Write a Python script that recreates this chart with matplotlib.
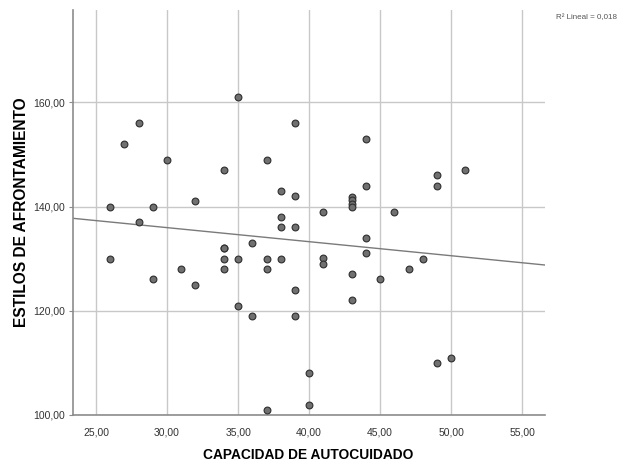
import matplotlib
matplotlib.use("Agg")
import matplotlib.pyplot as plt
import numpy as np
from matplotlib.ticker import FuncFormatter

# puntos (capacidad de autocuidado, estilos de afrontamiento)
autocuidado = [35, 28, 27, 30, 34, 26, 29, 32, 28, 34, 36, 26, 29, 31, 32,
               34, 34, 34, 35, 35, 36, 39, 44, 37, 38, 39, 44,
               43, 43, 43, 43, 41, 46, 38, 38, 39, 44, 44,
               37, 38, 41, 41, 37, 43, 45, 47, 39, 43, 39,
               40, 40, 37, 49, 49, 51, 48, 49, 50]
afrontamiento = [161, 156, 152, 149, 147, 140, 140, 141, 137, 132, 133, 130, 126, 128, 125,
                 132, 130, 128, 130, 121, 119, 156, 153, 149, 143, 142, 144,
                 141.9, 141.2, 140.5, 139.9, 139, 139, 138, 136, 136, 134, 131,
                 130, 130, 130.2, 128.9, 128, 127, 126, 128, 124, 122, 119,
                 108, 102, 101, 146, 144, 147, 130, 110, 111]

xticks = [25, 30, 35, 40, 45, 50, 55]
yticks = [100, 120, 140, 160]
r2_texto = "R² Lineal = 0,018"

plt.rcParams['font.family'] = ['Liberation Sans', 'DejaVu Sans']

fig = plt.figure(figsize=(6.2, 4.63), dpi=100)
ax = fig.add_axes([73/620, 1-415/463, (545-73)/620, (415-10)/463])

ax.set_xlim(23.38, 56.6)
ax.set_ylim(100, 177.7)
ax.set_xticks(xticks)
ax.set_yticks(yticks)
fmt = FuncFormatter(lambda v, p: f"{v:.2f}".replace(".", ","))
ax.xaxis.set_major_formatter(fmt)
ax.yaxis.set_major_formatter(fmt)
ax.grid(True, color="#c8c8c8", lw=1)
ax.set_axisbelow(True)

for s in ["top", "right"]:
    ax.spines[s].set_visible(False)
for s in ["left", "bottom"]:
    ax.spines[s].set_color("#8c8c8c")
    ax.spines[s].set_linewidth(1.2)
ax.tick_params(axis="x", length=0, labelsize=7.5, colors="#333333", pad=9)
ax.tick_params(axis="y", length=3, labelsize=7.5, colors="#333333", pad=3)
ax.tick_params(axis="y", color="#8c8c8c")

# recta de regresion
x = np.array(autocuidado, dtype=float)
y = np.array(afrontamiento, dtype=float)
b, a = np.polyfit(x, y, 1)
xl = np.array(ax.get_xlim())
ax.plot(xl, a + b*xl, color="#7a7a7a", lw=1, zorder=2)

ax.scatter(x, y, s=24, facecolor="#707070", edgecolor="#2e2e2e", linewidth=0.8, zorder=3)

fig.text(308/620, 1-455/463, "CAPACIDAD DE AUTOCUIDADO", fontsize=9.9,
         fontweight="bold", ha="center", va="center")
ax.set_ylabel("ESTILOS DE AFRONTAMIENTO", fontsize=11.2, fontweight="bold", labelpad=3)

fig.text(617/620, 1-18/463, r2_texto, fontsize=5.8, color="#555555", va="center", ha="right")

fig.savefig("out.png", dpi=100)
